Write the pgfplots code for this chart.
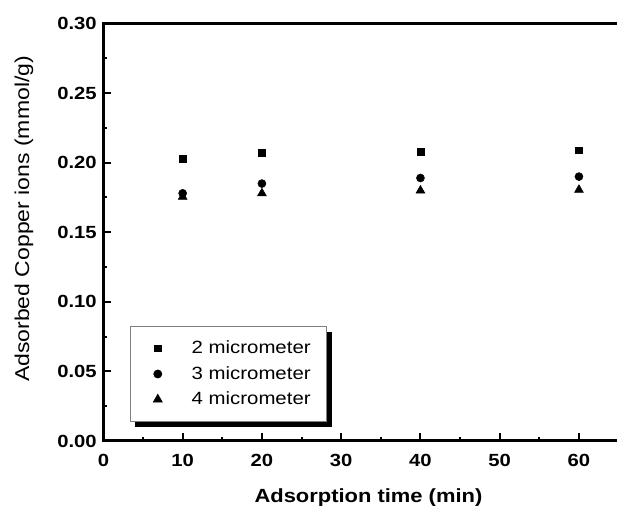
\documentclass[border=0pt]{standalone}
\usepackage{fontspec}
\setmainfont{Liberation Sans}[FakeStretch=1.15]
\usepackage{pgfplots}
\pgfplotsset{compat=1.18}
\usetikzlibrary{shadows}
\begin{document}
\begin{tikzpicture}
\useasboundingbox (-77.55pt,-48.75pt) rectangle (385.2pt,330.75pt);
\begin{axis}[
  scale only axis, width=385.2pt, height=313.1pt,
  xmin=0, xmax=64.8, ymin=0, ymax=0.30,
  clip=false,
  axis x line*=bottom, axis y line*=left,
  axis line style={line width=2.25pt, line cap=rect},
  xtick={0,10,20,30,40,50,60},
  ytick={0,0.05,0.10,0.15,0.20,0.25,0.30},
  minor x tick num=1, minor y tick num=1,
  tick align=inside,
  major tick length=6pt, minor tick length=3pt,
  tick style={black, line width=1.5pt},
  scaled y ticks=false,
  /pgf/number format/assume math mode=true,
  tick label style={font=\fontsize{13.2}{15}\selectfont\bfseries},
  yticklabel style={/pgf/number format/fixed, /pgf/number format/fixed zerofill, /pgf/number format/precision=2, xshift=-1.5pt},
  xticklabel style={anchor=base, yshift=-19.5pt},
  xlabel={Adsorption time (min)},
  xlabel style={at={(axis description cs:0.516,-0.1485)}, anchor=base, font=\fontsize{14.3}{16}\selectfont\bfseries},
  ylabel={Adsorbed Copper ions (mmol/g)},
  ylabel style={at={(axis description cs:-0.1546,0.532)}, anchor=center, font=\fontsize{15}{17}\selectfont},
  legend cell align=left,
  legend style={
    at={(0.0509,0.0455)}, anchor=south west,
    draw=gray, line width=0.6pt, fill=white,
    font=\fontsize{13.3}{15}\selectfont,
    inner xsep=8pt, inner ysep=7pt,
    nodes={inner sep=4pt, text depth=0.15em},
    row sep=0pt,
    drop shadow={shadow xshift=4.1pt, shadow yshift=-4.1pt, fill=black, opacity=1, draw=none},
  },
  legend image code/.code={\path (0pt,0pt) (33.7pt,0pt); \draw[#1] plot[only marks] coordinates {(12.6pt,0pt)};},
]
\addplot[only marks, mark=square*, mark size=2.5pt, black] coordinates {
  (10,0.203) (20,0.207) (40,0.208) (60,0.209)};
\addlegendentry{2 micrometer}
\addplot[only marks, mark=*, mark size=3pt, black] coordinates {
  (10,0.178) (20,0.185) (40,0.189) (60,0.190)};
\addlegendentry{3 micrometer}
\addplot[only marks, mark=triangle*, mark size=3.8pt, black] coordinates {
  (10,0.1755) (20,0.178) (40,0.180) (60,0.1805)};
\addlegendentry{4 micrometer}
\draw[line width=2.25pt, line cap=rect] (rel axis cs:0,1) -- (rel axis cs:1,1);
\end{axis}
\end{tikzpicture}
\end{document}
